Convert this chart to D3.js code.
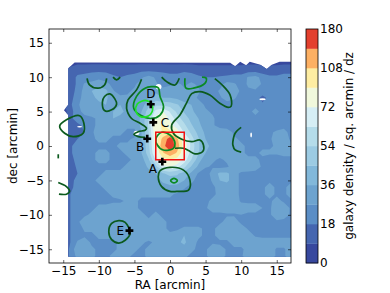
<!DOCTYPE html>
<html>
<head>
<meta charset="utf-8">
<script src="https://cdn.jsdelivr.net/npm/d3@7"></script>
<style>
  html, body { margin: 0; padding: 0; background: #fff; }
  text { font-family: "DejaVu Sans", sans-serif; fill: #000; }
</style>
</head>
<body>
<svg id="chart" width="390" height="293"></svg>
<script>
// Band edges and colours of the galaxy density map
const levels = [0, 9, 18, 27, 36, 45, 54, 63, 72, 90, 108, 144, 180];
const bandColors = ["#37489e", "#4566b0", "#5b8ec6", "#6da3cf", "#82b8da", "#9ccbe3",
                    "#b5dcea", "#d6eef5", "#f0f8dc", "#feeda2", "#fdb063", "#e3402e"];
const colorbarTicks = [0, 18, 36, 54, 72, 108, 180];
const axisTicks = [-15, -10, -5, 0, 5, 10, 15];

// Density, 1 arcmin cells: RA -15..17, dec 12..-16
const gridRA0 = -15, gridDec0 = 12;
const density = [
  [6,8,8,8,8,8,8,8,8,8,8,8,8,8,8,8,8,8,8,8,8,8,8,8,8,8,8,8,8,8,8,8,8],
  [8,10,14,14,16,16,16,14,14,14,14,16,16,16,16,14,14,16,14,12,12,12,12,12,12,12,14,14,12,12,12,14,14],
  [6,12,20,22,22,24,22,20,18,20,22,26,30,26,22,22,22,24,24,20,18,18,19,20,22,22,28,30,24,20,20,22,22],
  [6,12,20,28,30,33,30,24,22,24,26,30,34,28,24,26,28,26,28,26,22,22,24,30,28,24,28,31,26,24,24,24,24],
  [6,12,22,30,36,40,38,28,22,26,28,28,30,34,30,30,32,28,30,28,24,24,28,34,30,26,26,26,26,26,24,26,26],
  [8,14,24,30,34,38,38,30,30,28,30,30,34,40,36,36,34,30,30,26,24,24,26,30,28,24,24,24,14,22,24,26,26],
  [8,16,26,30,32,34,36,34,36,32,28,32,42,52,52,50,46,40,36,30,26,24,24,24,24,24,26,26,20,24,24,26,26],
  [4,14,24,30,30,30,32,36,38,34,30,36,50,66,72,62,52,44,38,32,28,26,24,24,24,24,26,28,26,24,24,26,26],
  [8,16,22,24,26,28,32,36,34,32,30,38,54,76,84,70,58,50,42,36,30,28,24,24,24,24,26,26,24,24,24,26,26],
  [10,14,16,20,24,30,30,32,30,28,30,38,56,84,92,76,66,56,46,38,32,28,24,24,24,26,26,26,24,24,24,26,26],
  [10,14,14,18,26,30,28,28,28,26,24,36,54,80,92,96,78,62,52,42,34,30,32,30,26,26,22,26,24,26,28,28,26],
  [10,14,18,24,26,28,28,26,26,26,28,36,52,80,115,165,112,76,58,46,36,32,34,32,28,26,22,24,24,26,30,30,26],
  [8,16,24,26,26,26,26,26,28,28,30,36,52,78,125,185,120,80,60,46,38,34,34,34,30,28,26,26,26,26,28,30,28],
  [6,16,24,26,26,28,28,26,26,28,30,36,50,74,105,125,105,76,58,46,36,30,30,32,30,28,26,26,28,28,28,28,28],
  [6,14,22,24,26,28,28,26,24,26,28,32,44,64,84,88,84,68,54,40,30,28,26,28,30,30,28,28,26,24,24,26,26],
  [6,12,20,22,24,26,26,26,26,28,28,30,38,50,68,72,66,56,44,34,28,26,24,26,30,34,32,30,26,24,26,26,26],
  [8,12,18,22,24,26,28,28,28,28,30,30,32,36,44,48,46,42,34,26,22,31,38,38,31,25,25,25,25,25,18,20,25],
  [8,14,22,24,26,28,28,30,28,28,30,30,30,32,38,40,42,36,30,22,20,29,36,38,31,25,25,25,25,25,18,24,25],
  [8,14,24,26,26,26,28,30,30,30,30,30,30,30,32,34,32,28,24,22,20,25,31,31,31,25,25,25,25,31,25,25,31],
  [12,18,24,26,26,26,26,28,30,30,28,28,28,28,28,28,26,24,22,20,20,24,31,31,31,25,18,18,25,31,25,25,31],
  [10,18,24,26,26,26,26,26,26,28,28,26,26,26,26,26,24,22,20,22,24,30,31,31,31,26,25,25,25,25,31,25,25],
  [10,18,24,26,26,28,28,30,30,28,28,26,26,26,26,26,24,22,22,24,26,31,31,31,31,31,31,31,27,25,35,35,25],
  [8,18,24,26,28,30,32,32,32,30,28,28,26,28,26,26,24,20,24,26,26,25,25,26,26,27,25,25,25,25,35,30,26],
  [10,18,26,30,30,30,32,34,32,30,30,32,28,32,28,26,24,24,24,24,24,25,25,30,31,25,25,25,25,25,25,25,26],
  [10,18,24,28,28,28,30,30,26,28,32,34,30,30,28,26,26,28,28,28,26,25,31,31,31,31,26,25,25,25,25,25,25],
  [12,18,24,26,26,28,28,28,28,28,30,30,30,28,28,28,30,36,32,28,26,25,31,31,31,31,31,26,25,25,25,25,25],
  [10,18,28,30,26,26,26,26,28,30,30,28,26,28,30,32,34,38,30,26,26,26,25,25,31,31,31,31,31,31,31,31,31],
  [10,20,34,30,28,26,26,26,28,30,28,26,28,30,30,30,32,32,28,26,26,31,31,26,25,25,31,31,31,31,26,26,31],
  [10,20,30,28,28,26,26,28,28,28,26,26,28,28,28,28,28,28,26,26,26,31,34,25,25,26,31,31,31,31,26,26,31]
];

// Survey footprint outline [RA, dec]
const footprint = [[-14.3,-16.1],[-14.3,4.5],[-14.9,5.2],[-14.3,6],[-14.3,11.3],[-13.4,12.15],
  [8.45,12.1],[9.15,11.6],[9.86,12.25],[10.7,11.75],[11.2,12.25],[11.7,12.1],[12.7,11.8],
  [13.6,11.2],[14.3,11.8],[15.4,12.25],[17,12.25],[17,-16.1]];

// Small masked holes: RA, dec, half width, half height
const holes = [[-12.7,2.8,.35,.12],[13,6.8,.45,.15],[11.4,1.6,.12,.35],[-4.7,1.9,.4,.3],[-1.6,8.6,.4,.4]];

// Overlaid contours, [RA, dec]
const darkLoops = [
  [[-15.5,2.9],[-14.55,3.8],[-12.7,4.4],[-12.1,3.3],[-12.2,1.85],[-13.6,1.35],[-14.8,1.85]],
  [[-8.45,7.57],[-7.75,6.85],[-7.5,6.1],[-8.2,5.25],[-9.2,5.15],[-9.5,6.35],[-9.2,7.2]],
  [[-5.6,-12.7],[-6.3,-11.1],[-7.2,-10.85],[-8.2,-11.25],[-8.6,-12.45],[-8.2,-13.6],[-7.2,-14.1],[-6.3,-13.7]],
  [[-1.65,-4.46],[-1.17,-5.9],[0,-6.6],[.94,-6.6],[2.6,-6.4],[2.8,-4.95],[1.9,-3.5],[0,-3.1],[-1.4,-3.6]]
];
const darkArcs = [
  [[-11.65,9.84],[-11.3,8.87],[-10.1,8.4],[-9.2,8.87],[-8.9,9.84]],
  [[-8,10],[-7.5,9.6],[-7,10]],
  [[-4,9.7],[-4.7,8.15],[-5.9,6.7],[-6.1,5.47],[-5.4,4],[-4.2,3.3],[-3.3,2.6],[-3.5,2.3],[-4.46,2.08],[-5.07,1.7],[-4.46,1.36],[-3.5,1.25]],
  [[-1.17,10],[-.47,9.35],[.7,8.87],[1.3,9.84]],
  [[6.3,9.8],[7.3,8.9],[8.45,7.4],[8.6,5.8],[8.2,5.6],[7,6.2],[5.6,7.4],[4.2,7.9],[3.05,7.6],[2.3,6.2],[1.4,4.5],[.24,3.05],
   [.47,1.85],[1.65,.97],[3.05,.63],[4.2,.87],[4.7,.15],[4.6,-.8],[3.5,-1.15],[2.6,-.66],[1.9,-.33],[.7,-.33]],
  [[10,2.7],[9.15,1.85],[8.83,.6],[8.83,.15],[9.15,-.58],[10,-.9]],
  [[-15.7,-5.3],[-14.55,-5.9],[-14.1,-6.6],[-14.55,-7],[-15.6,-7]],
  [[-15.7,-1.2],[-15.7,-1.8]]
];
const midLoops = [
  [[-1.9,8.6],[-3.5,8.4],[-4.7,7.2],[-5.1,5.5],[-4.2,4.5],[-2.6,4],[-1.4,4.5],[-.9,5.7],[-1.4,7.2],[-1.6,8.4]],
  [[-1.17,2],[0,1.6],[.7,.38],[.47,-.34],[-.94,-.58],[-1.78,.15],[-1.97,1.1]],
  [[.56,-4.7],[1.03,-5.04],[.56,-5.37],[.09,-5.04]]
];
const midArcs = [
  [[2.1,9.84],[2.25,8.4],[3.3,8.4],[4.9,9.1],[5.1,9.84],[4.5,10]]
];
const brightLoops = [
  [[-3.3,6.6],[-2.6,6.2],[-2.5,5],[-3.05,4.36],[-4.2,4.3],[-4.8,5.1],[-4.6,6.1],[-4,6.5]]
];

// Marked positions
const markerNames = ["A", "B", "C", "D", "E"];
const markerRA = [-1.08, -3.2, -2.35, -2.7, -5.7];
const markerDec = [-2.28, 1.06, 3.44, 6.06, -12.3];
const labelRA = [-2.4, -4.2, -.7, -2.7, -7];
const labelDec = [-3.3, -.15, 3.3, 7.5, -12.4];

const boxHalf = 2;

const svg = d3.select("#chart");
const x = d3.scaleLinear().domain([-17, 17]).range([49, 291]);
const y = d3.scaleLinear().domain([-17, 17]).range([263, 29]);

const minus = d => String(d).replace("-", "\u2212");

// Map
const rows = density.length, cols = density[0].length;
const contours = d3.contours().size([cols, rows]).thresholds(levels.slice(0, -1));
const project = d3.geoTransform({
  point(px, py) {
    this.stream.point(x(gridRA0 + px - 0.5), y(gridDec0 - py + 0.5));
  }
});
const path = d3.geoPath(project);

const defs = svg.append("defs");
defs.append("clipPath").attr("id", "plot-clip")
  .append("rect")
  .attr("x", x.range()[0]).attr("y", y.range()[1])
  .attr("width", x.range()[1] - x.range()[0])
  .attr("height", y.range()[0] - y.range()[1]);
defs.append("clipPath").attr("id", "footprint-clip")
  .append("path")
  .attr("d", d3.line().x(d => x(d[0])).y(d => y(d[1])).curve(d3.curveLinearClosed)(footprint));

svg.append("g")
  .attr("clip-path", "url(#footprint-clip)")
  .selectAll("path")
  .data(contours(density.flat()))
  .join("path")
  .attr("d", path)
  .attr("fill", (d, i) => bandColors[i]);

svg.append("g").selectAll("ellipse")
  .data(holes)
  .join("ellipse")
  .attr("cx", d => x(d[0]))
  .attr("cy", d => y(d[1]))
  .attr("rx", d => x(d[2]) - x(0))
  .attr("ry", d => y(0) - y(d[3]))
  .attr("fill", "#fff");

// Green contours
const lineOpen = d3.line().x(d => x(d[0])).y(d => y(d[1])).curve(d3.curveCatmullRom);
const lineClosed = d3.line().x(d => x(d[0])).y(d => y(d[1])).curve(d3.curveCatmullRomClosed);

function draw_lines(data, gen, color) {
  svg.append("g")
    .attr("clip-path", "url(#plot-clip)")
    .selectAll("path")
    .data(data)
    .join("path")
    .attr("d", gen)
    .attr("fill", "none")
    .attr("stroke", color)
    .attr("stroke-width", 1.7);
}
draw_lines(darkLoops, lineClosed, "#0b5a1e");
draw_lines(darkArcs, lineOpen, "#0b5a1e");
draw_lines(midLoops, lineClosed, "#0a8a22");
draw_lines(midArcs, lineOpen, "#0a8a22");
draw_lines(brightLoops, lineClosed, "#1fe02c");

// Red box
svg.append("rect")
  .attr("x", x(-boxHalf)).attr("y", y(boxHalf))
  .attr("width", x(boxHalf) - x(-boxHalf))
  .attr("height", y(-boxHalf) - y(boxHalf))
  .attr("fill", "none")
  .attr("stroke", "#f01010")
  .attr("stroke-width", 1.5);

// Markers and their letters
svg.append("g").selectAll("path")
  .data(markerNames)
  .join("path")
  .attr("d", d3.symbol().type(d3.symbolCross).size(34))
  .attr("transform", (d, i) => `translate(${x(markerRA[i])},${y(markerDec[i])})`)
  .attr("fill", "#000");

svg.append("g").selectAll("text")
  .data(markerNames)
  .join("text")
  .attr("x", (d, i) => x(labelRA[i]))
  .attr("y", (d, i) => y(labelDec[i]))
  .attr("text-anchor", "middle")
  .attr("dominant-baseline", "central")
  .style("font-size", "12px")
  .text(d => d);

// Axes, ticks point inwards on all four sides
function style_axis(g) {
  g.select(".domain").remove();
  g.selectAll("line").attr("stroke", "#000").attr("stroke-width", 0.6);
  g.selectAll("text").style("font-size", "12px");
}
svg.append("g")
  .attr("transform", `translate(0,${y.range()[0]})`)
  .call(d3.axisBottom(x).tickValues(axisTicks).tickSizeInner(-3).tickPadding(3).tickFormat(minus))
  .call(style_axis);
svg.append("g")
  .attr("transform", `translate(${x.range()[0]},0)`)
  .call(d3.axisLeft(y).tickValues(axisTicks).tickSizeInner(-3).tickPadding(5).tickFormat(minus))
  .call(style_axis);
svg.append("g")
  .attr("transform", `translate(0,${y.range()[1]})`)
  .call(d3.axisTop(x).tickValues(axisTicks).tickSizeInner(-3).tickFormat(""))
  .call(style_axis);
svg.append("g")
  .attr("transform", `translate(${x.range()[1]},0)`)
  .call(d3.axisRight(y).tickValues(axisTicks).tickSizeInner(-3).tickFormat(""))
  .call(style_axis);

svg.append("rect")
  .attr("x", x.range()[0]).attr("y", y.range()[1])
  .attr("width", x.range()[1] - x.range()[0])
  .attr("height", y.range()[0] - y.range()[1])
  .attr("fill", "none").attr("stroke", "#000").attr("stroke-width", 0.8);

svg.append("text")
  .attr("x", 170).attr("y", 289)
  .attr("text-anchor", "middle")
  .style("font-size", "12px")
  .text("RA [arcmin]");
svg.append("text")
  .attr("transform", "translate(17,146) rotate(-90)")
  .attr("text-anchor", "middle")
  .style("font-size", "12px")
  .text("dec [arcmin]");

// Colour bar, bands evenly spaced
const barX = 306, barW = 12;
const barY = d3.scaleLinear().domain([0, bandColors.length]).range([263, 29]);
svg.append("g").selectAll("rect")
  .data(bandColors)
  .join("rect")
  .attr("x", barX)
  .attr("y", (d, i) => barY(i + 1))
  .attr("width", barW)
  .attr("height", barY(0) - barY(1) + 0.3)
  .attr("fill", d => d);
svg.append("rect")
  .attr("x", barX).attr("y", barY(12))
  .attr("width", barW).attr("height", barY(0) - barY(12))
  .attr("fill", "none").attr("stroke", "#000").attr("stroke-width", 0.8);

svg.append("g").selectAll("text")
  .data(colorbarTicks)
  .join("text")
  .attr("x", barX + barW + 2)
  .attr("y", d => barY(levels.indexOf(d)))
  .attr("dominant-baseline", "central")
  .style("font-size", "12px")
  .text(d => d);

svg.append("text")
  .attr("transform", "translate(353,146) rotate(-90)")
  .attr("text-anchor", "middle")
  .style("font-size", "12px")
  .text("galaxy density / sq. arcmin / dz");
</script>
</body>
</html>
